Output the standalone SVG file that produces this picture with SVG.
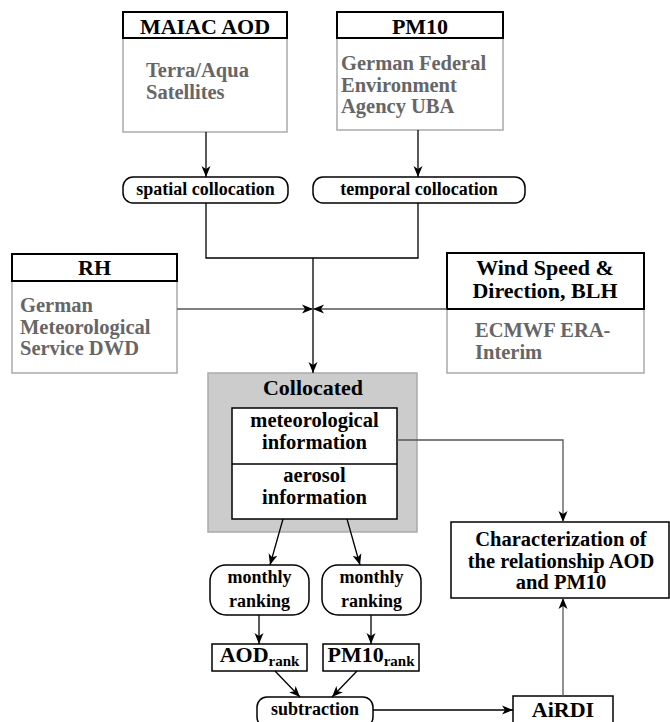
<svg xmlns="http://www.w3.org/2000/svg" width="670" height="722" viewBox="0 0 670 722">
<style>
text{font-family:"Liberation Serif","Times New Roman",serif;font-weight:bold;fill:#000}
.h{font-size:22px;text-anchor:middle}
.g{font-size:20.5px;fill:#666}
.c{font-size:20.5px;text-anchor:middle}
.c1{font-size:22px;text-anchor:middle}
.s{font-size:18px;text-anchor:middle}
.hdr{fill:#fff;stroke:#000;stroke-width:2}
.body{fill:#fff;stroke:#aaa;stroke-width:1.5}
.box{fill:#fff;stroke:#000;stroke-width:1.5}
.ln{fill:none;stroke:#000;stroke-width:1.3}
.gl{fill:none;stroke:#555;stroke-width:1.3}
</style>
<defs>
<marker id="a" markerUnits="userSpaceOnUse" markerWidth="12" markerHeight="10" refX="11" refY="5" orient="auto"><path d="M0,0.5 L11,5 L0,9.5 L3,5 Z" fill="#000"/></marker>
</defs>
<g id="maiac">
<rect class="body" x="123" y="38" width="164" height="94"/>
<rect class="hdr" x="123" y="12" width="164" height="26"/>
<text class="h" x="205" y="34">MAIAC AOD</text>
<text class="g" x="146" y="77">Terra/Aqua</text>
<text class="g" x="146" y="98.5">Satellites</text>
</g>
<g id="pm10">
<rect class="body" x="337" y="38" width="166" height="92"/>
<rect class="hdr" x="337" y="12" width="166" height="26"/>
<text class="h" x="420" y="34">PM10</text>
<text class="g" x="341" y="70">German Federal</text>
<text class="g" x="341" y="91.5">Environment</text>
<text class="g" x="341" y="113">Agency UBA</text>
</g>
<g id="spatial">
<rect class="box" x="123" y="177" width="165" height="26" rx="10"/>
<text class="s" x="205.5" y="195">spatial collocation</text>
</g>
<g id="temporal">
<rect class="box" x="313" y="177" width="212" height="26" rx="10"/>
<text class="s" x="419" y="195">temporal collocation</text>
</g>
<g id="rh">
<rect class="body" x="12" y="281" width="165" height="92"/>
<rect class="hdr" x="12" y="254" width="165" height="27"/>
<text class="h" x="94.5" y="275">RH</text>
<text class="g" x="20" y="312">German</text>
<text class="g" x="20" y="333.5">Meteorological</text>
<text class="g" x="20" y="355">Service DWD</text>
</g>
<g id="wind">
<rect class="body" x="447" y="309" width="197" height="64"/>
<rect class="hdr" x="447" y="253" width="197" height="56"/>
<text class="h" x="545" y="275">Wind Speed &amp;</text>
<text class="h" x="545" y="298">Direction, BLH</text>
<text class="g" x="475" y="337">ECMWF ERA-</text>
<text class="g" x="475" y="358.5">Interim</text>
</g>
<g id="collocated">
<rect x="208" y="373" width="209" height="159" fill="#ccc" stroke="#aaa" stroke-width="1.5"/>
<text class="c1" x="313" y="395">Collocated</text>
<rect class="box" x="232" y="408" width="165" height="111"/>
<line x1="232" y1="464" x2="397" y2="464" stroke="#000" stroke-width="1.5"/>
<text class="c" x="314.5" y="427">meteorological</text>
<text class="c" x="314.5" y="448.5">information</text>
<text class="c" x="314.5" y="482">aerosol</text>
<text class="c" x="314.5" y="503.5">information</text>
</g>
<g id="characterization">
<rect class="box" x="451" y="522" width="218" height="76"/>
<text class="c" x="561" y="546">Characterization of</text>
<text class="c" x="561" y="567.5">the relationship AOD</text>
<text class="c" x="561" y="589">and PM10</text>
</g>
<g id="rank1">
<rect class="box" x="210" y="565" width="99" height="50" rx="16"/>
<text class="s" x="259.5" y="583">monthly</text>
<text class="s" x="259.5" y="607">ranking</text>
</g>
<g id="rank2">
<rect class="box" x="322" y="565" width="99" height="50" rx="16"/>
<text class="s" x="371.5" y="583">monthly</text>
<text class="s" x="371.5" y="607">ranking</text>
</g>
<g id="aodrank">
<rect class="box" x="212" y="644" width="95" height="27"/>
<text class="c1" x="259.5" y="662">AOD<tspan font-size="15" dy="4">rank</tspan></text>
</g>
<g id="pm10rank">
<rect class="box" x="323" y="644" width="96" height="27"/>
<text class="c1" x="371" y="662">PM10<tspan font-size="15" dy="4">rank</tspan></text>
</g>
<g id="subtraction">
<rect class="box" x="257" y="697" width="116" height="30" rx="10"/>
<text class="s" x="315" y="715">subtraction</text>
</g>
<g id="airdi">
<rect class="box" x="513" y="696" width="100" height="34"/>
<text class="c1" x="563" y="717">AiRDI</text>
</g>
<g id="connectors">
<line class="ln" x1="206" y1="132" x2="206" y2="177" marker-end="url(#a)"/>
<line class="ln" x1="418" y1="130" x2="418" y2="177" marker-end="url(#a)"/>
<polyline class="ln" points="206,203 206,258 418,258 418,203"/>
<line class="ln" x1="313" y1="258" x2="313" y2="373" marker-end="url(#a)"/>
<line class="gl" x1="177" y1="309" x2="313" y2="309" marker-end="url(#a)"/>
<line class="gl" x1="447" y1="309" x2="313" y2="309" marker-end="url(#a)"/>
<polyline class="gl" points="397,440 563,440 563,522" marker-end="url(#a)"/>
<line class="ln" x1="283" y1="519" x2="270" y2="565" marker-end="url(#a)"/>
<line class="ln" x1="347" y1="519" x2="360" y2="565" marker-end="url(#a)"/>
<line class="ln" x1="259" y1="615" x2="259" y2="644" marker-end="url(#a)"/>
<line class="ln" x1="371" y1="615" x2="371" y2="644" marker-end="url(#a)"/>
<line class="ln" x1="275" y1="671" x2="300" y2="697" marker-end="url(#a)"/>
<line class="ln" x1="357" y1="671" x2="332" y2="697" marker-end="url(#a)"/>
<line class="ln" x1="373" y1="710" x2="513" y2="710" marker-end="url(#a)"/>
<line class="gl" x1="563" y1="696" x2="563" y2="598" marker-end="url(#a)"/>
</g>
</svg>
